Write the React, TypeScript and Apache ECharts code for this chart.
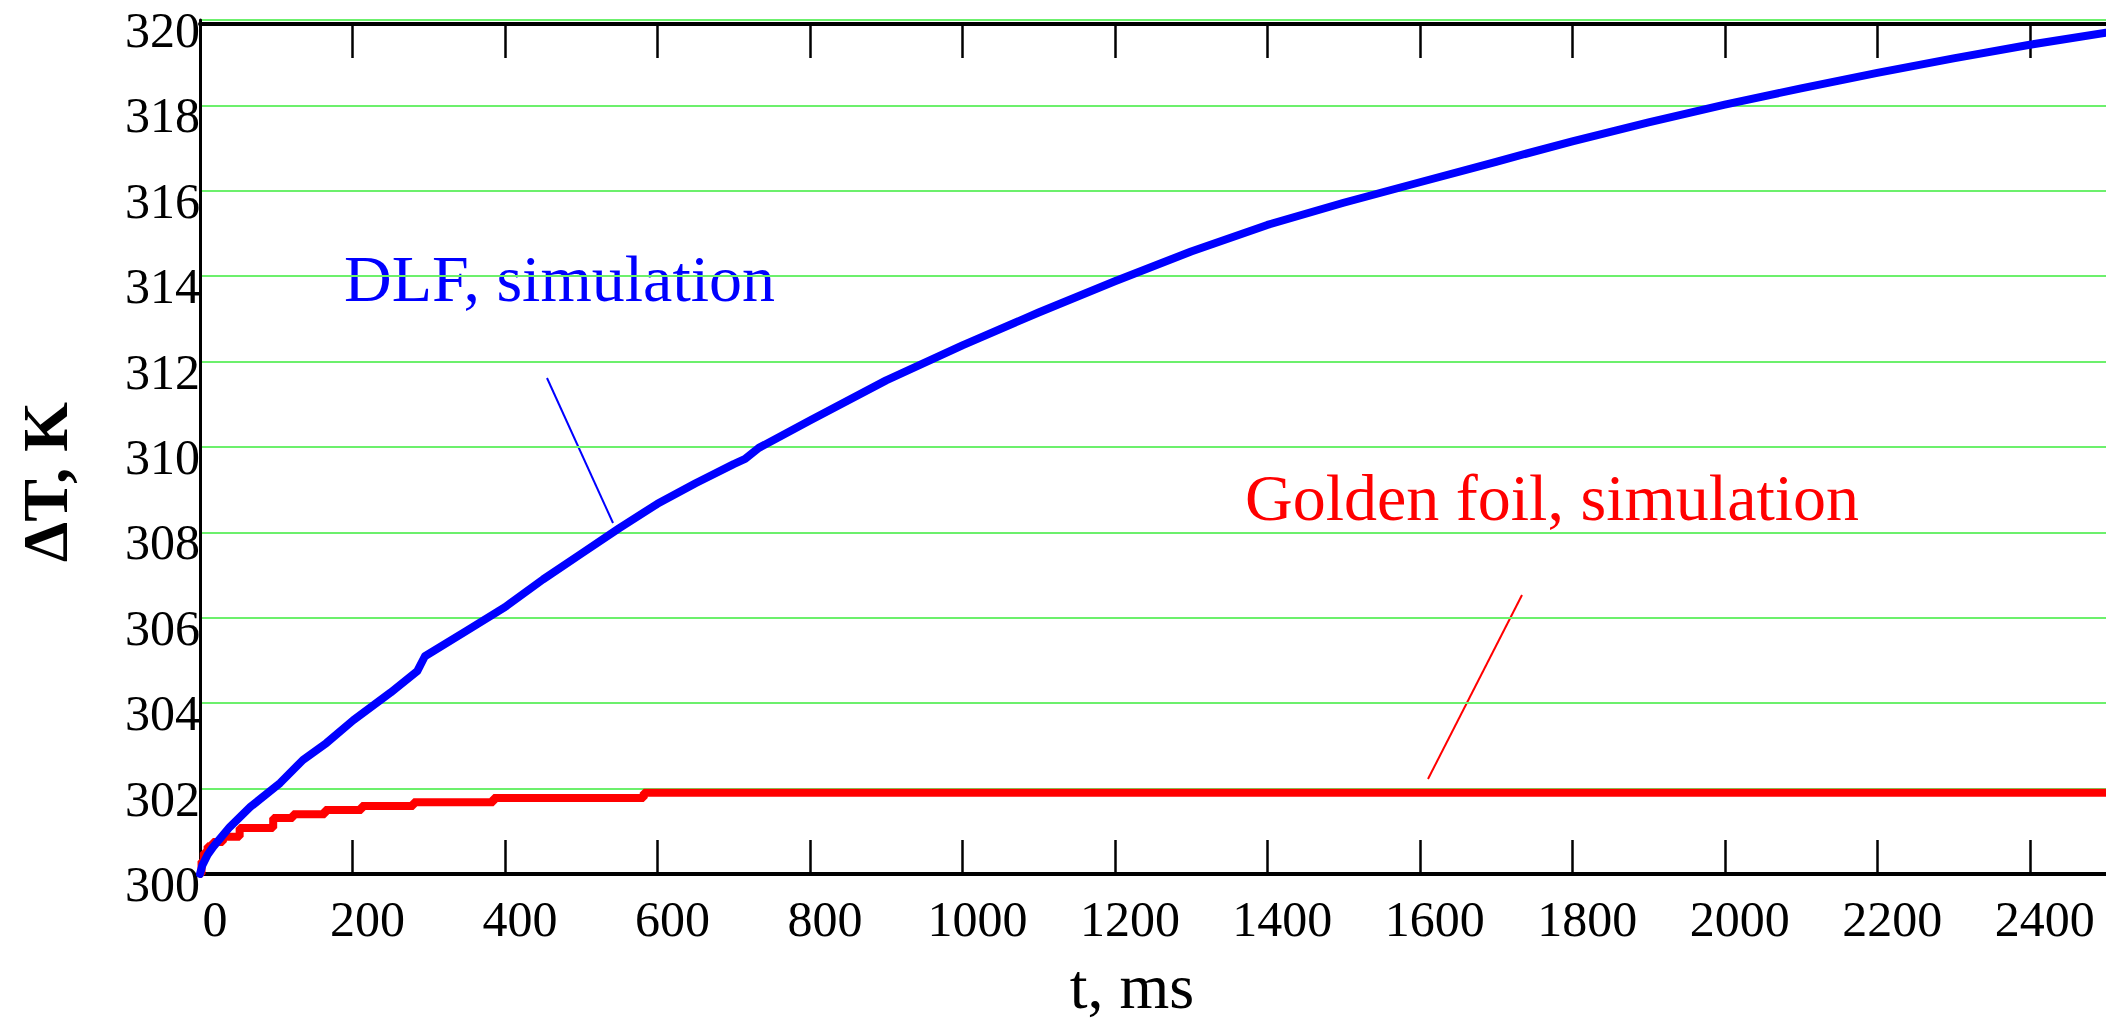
import React, { useEffect, useRef } from "react";
import * as echarts from "echarts";

// ---- Data ----
const xTicks = [0, 200, 400, 600, 800, 1000, 1200, 1400, 1600, 1800, 2000, 2200, 2400];
const yTicks = [300, 302, 304, 306, 308, 310, 312, 314, 316, 318, 320];

// DLF, simulation (blue)
const dlfTime = [
  0, 3, 10, 17, 39, 66, 105, 135, 166, 201, 250, 285, 295, 350, 400, 450, 500, 550,
  600, 650, 700, 715, 733, 800, 900, 1000, 1100, 1200, 1300, 1400, 1500, 1600, 1700,
  1800, 1900, 2000, 2100, 2200, 2300, 2400, 2500,
];
const dlfTemp = [
  300.0, 300.2, 300.45, 300.63, 301.1, 301.57, 302.13, 302.67, 303.07, 303.6, 304.25,
  304.75, 305.1, 305.7, 306.25, 306.9, 307.5, 308.1, 308.67, 309.15, 309.6, 309.72,
  309.98, 310.62, 311.56, 312.38, 313.15, 313.88, 314.58, 315.2, 315.72, 316.2,
  316.68, 317.16, 317.6, 318.02, 318.4, 318.76, 319.1, 319.42, 319.7,
];

// Golden foil, simulation (red)
const goldTime = [0, 2, 5, 10, 17, 30, 52, 96, 122, 164, 212, 280, 385, 582, 2500];
const goldTemp = [
  300.0, 300.3, 300.5, 300.65, 300.75, 300.87, 301.08, 301.31, 301.4, 301.5, 301.59,
  301.68, 301.78, 301.9, 301.9,
];

const FONT = '"Liberation Serif", "Times New Roman", serif';

export default function App() {
  const ref = useRef<HTMLDivElement>(null);

  useEffect(() => {
    if (!ref.current) return;
    const chart = echarts.init(ref.current, null, { renderer: "svg" });

    const blue = dlfTime.map((t, i) => [t, dlfTemp[i]]);
    const red = goldTime.map((t, i) => [t, goldTemp[i]]);

    chart.setOption({
      animation: false,
      backgroundColor: "#ffffff",
      textStyle: { fontFamily: FONT },
      grid: { left: 200, right: 0, top: 20, bottom: 148, containLabel: false },
      xAxis: [
        {
          type: "value",
          min: 0,
          max: 2500,
          position: "bottom",
          axisLine: { show: true, onZero: false, lineStyle: { color: "#000", width: 4 } },
          axisTick: {
            show: true,
            inside: true,
            length: 34,
            customValues: xTicks,
            lineStyle: { color: "#000", width: 2.5 },
          },
          axisLabel: {
            show: true,
            customValues: xTicks,
            formatter: (v: number) => String(v),
            fontFamily: FONT,
            fontSize: 50,
            color: "#000",
            margin: 20,
            padding: [0, 0, 0, 30],
          },
          splitLine: { show: false },
        },
        {
          type: "value",
          min: 0,
          max: 2500,
          position: "top",
          offset: -4,
          axisLine: { show: true, onZero: false, lineStyle: { color: "#000", width: 4 } },
          axisTick: {
            show: true,
            inside: true,
            length: 34,
            customValues: xTicks,
            lineStyle: { color: "#000", width: 2.5 },
          },
          axisLabel: { show: false },
          splitLine: { show: false },
        },
      ],
      yAxis: {
        type: "value",
        min: 300,
        max: 320,
        interval: 2,
        axisLine: { show: true, onZero: false, lineStyle: { color: "#000", width: 3 } },
        axisTick: { show: false },
        axisLabel: {
          show: true,
          customValues: yTicks,
          formatter: (v: number) => String(v),
          fontFamily: FONT,
          fontSize: 50,
          color: "#000",
          margin: 0,
          verticalAlign: "top",
          lineHeight: 20,
        },
        splitLine: { show: true, lineStyle: { color: "#6cf06c", width: 2 } },
      },
      series: [
        {
          name: "Golden foil, simulation",
          type: "line",
          data: red,
          step: "end",
          showSymbol: false,
          lineStyle: { color: "#ff0000", width: 8 },
          itemStyle: { color: "#ff0000" },
          z: 3,
        },
        {
          name: "DLF, simulation",
          type: "line",
          data: blue,
          showSymbol: false,
          lineStyle: { color: "#0000ff", width: 8, cap: "round", join: "round" },
          itemStyle: { color: "#0000ff" },
          z: 4,
        },
      ],
      graphic: [
        {
          type: "text",
          x: 344,
          y: 278,
          style: {
            text: "DLF, simulation",
            font: `66px ${FONT}`,
            fill: "#0000ff",
            align: "left",
            verticalAlign: "middle",
          },
        },
        {
          type: "line",
          shape: { x1: 547, y1: 378, x2: 613, y2: 523 },
          style: { stroke: "#0000ff", lineWidth: 2 },
        },
        {
          type: "text",
          x: 1245,
          y: 497,
          style: {
            text: "Golden foil, simulation",
            font: `66px ${FONT}`,
            fill: "#ff0000",
            align: "left",
            verticalAlign: "middle",
          },
        },
        {
          type: "line",
          shape: { x1: 1522, y1: 595, x2: 1428, y2: 779 },
          style: { stroke: "#ff0000", lineWidth: 2 },
        },
        {
          type: "text",
          x: 1132,
          y: 986,
          style: {
            text: "t, ms",
            font: `64px ${FONT}`,
            lineHeight: 44,
            fill: "#000",
            align: "center",
            verticalAlign: "middle",
          },
        },
        {
          type: "text",
          x: 45,
          y: 482,
          rotation: Math.PI / 2,
          style: {
            text: "ΔT, K",
            font: `bold 64px ${FONT}`,
            fill: "#000",
            align: "center",
            verticalAlign: "middle",
          },
        },
      ],
    });

    return () => chart.dispose();
  }, []);

  return (
    <div
      ref={ref}
      style={{ position: "fixed", left: 0, top: 0, width: 2106, height: 1022, background: "#fff" }}
    />
  );
}
